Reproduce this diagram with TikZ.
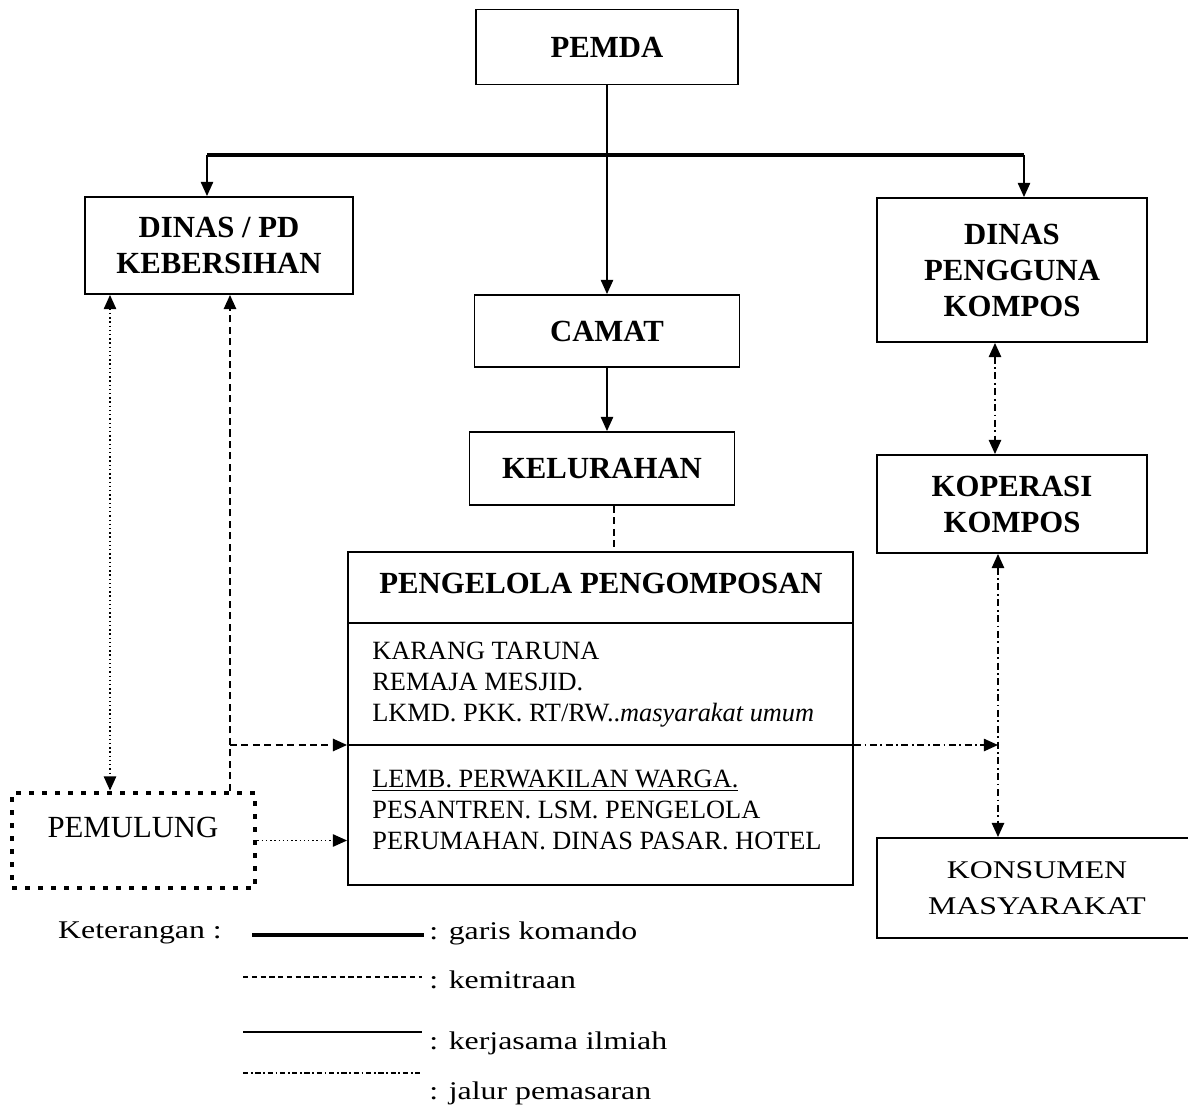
\documentclass[tikz,border=0pt]{standalone}
\usepackage{fontspec}
\setmainfont{Liberation Serif}
\newfontfamily\wideserif{Liberation Serif}[FakeStretch=1.25]
\usetikzlibrary{arrows.meta}
\tikzset{
  box/.style={draw,line width=1.1pt,align=center,inner sep=0pt},
  box-size/.style 2 args={minimum width=#1*0.02cm,minimum height=#2*0.02cm},
  box-bold/.style={box,font=\fontsize{17.5}{20.5}\selectfont\bfseries},
  box-wide/.style={box,font=\wideserif\fontsize{14.5}{20.5}\selectfont},
  box-dotted/.style={draw,line width=2.8pt,dash pattern=on 2.8pt off 4.6pt,
    inner sep=0pt},
  txt-list/.style={align=left,inner sep=0pt,
    font=\fontsize{15}{17.6}\selectfont},
  txt-legend/.style={inner sep=0pt,font=\wideserif\fontsize{14.5}{17}\selectfont},
  line-cmd/.style={line width=2.4pt},
  arrow/.style={->,line width=0.8pt},
  mitra/.style={line width=1pt,dash pattern=on 4pt off 2.5pt},
  pasar/.style={line width=0.9pt,dash pattern=on 4pt off 2pt on 1pt off 2pt},
  titik/.style={line width=0.8pt,dash pattern=on 0.8pt off 1.6pt},
}

\begin{document}
\begin{tikzpicture}[x=0.02cm,y=-0.02cm,>={Triangle[length=8pt,width=7pt]}]
  \useasboundingbox (0,0) rectangle (1188,1112);
  % kotak utama
  \node[box-bold,box-size={262}{75}] (pemda) at (607,47) {PEMDA};
  \node[box-bold,box-size={268}{97}] (dinaspd) at (219,245.5) {DINAS / PD\\KEBERSIHAN};
  \node[box-bold,box-size={270}{144}] (pengguna) at (1012,270) {DINAS\\PENGGUNA\\KOMPOS};
  \node[box-bold,box-size={265}{72}] (camat) at (607,331) {CAMAT};
  \node[box-bold,box-size={265}{73}] (kelurahan) at (602,468.5) {KELURAHAN};
  \node[box-bold,box-size={270}{98}] (koperasi) at (1012,504) {KOPERASI\\KOMPOS};
  \node[box-wide,box-size={320}{100}] (konsumen) at (1037,888) {KONSUMEN\\MASYARAKAT};
  % pengelola pengomposan
  \node[box,box-size={505}{333}] (pengelola) at (600.5,718.5) {};
  \node[font=\fontsize{17.5}{20.5}\selectfont\bfseries] (judul) at (601,583) {PENGELOLA PENGOMPOSAN};
  \draw[line width=1.1pt] (pengelola.west |- 0,623) -- (pengelola.east |- 0,623);
  \draw[line width=1.1pt] (pengelola.west |- 0,745) -- (pengelola.east |- 0,745);
  \node[txt-list,anchor=west] (grup1) at (372,685)
    {KARANG TARUNA\\REMAJA MESJID.\\LKMD. PKK. RT/RW..\textit{masyarakat umum}};
  \node[txt-list,anchor=west] (grup2) at (372,810)
    {\underline{LEMB. PERWAKILAN WARGA.}\\PESANTREN. LSM. PENGELOLA\\PERUMAHAN. DINAS PASAR. HOTEL};
  % pemulung
  \node[box-dotted,box-size={243}{95}] (pemulung) at (133.5,840.5) {};
  \node[font=\fontsize{17.5}{20}\selectfont] (pemulung-teks) at (133,827) {PEMULUNG};

  % garis komando
  \coordinate (barL) at (207,155);
  \coordinate (barR) at (1024,155);
  \draw[line-cmd] (barL) -- (barR);
  \draw[arrow] (barL) -- (barL |- dinaspd.north);
  \draw[arrow] (barR) -- (barR |- pengguna.north);
  \draw[arrow] (pemda.south) -- (camat.north);
  \draw[arrow] (camat.south) -- (camat.south |- kelurahan.north);

  % kemitraan
  \coordinate (kx) at (614,0);
  \coordinate (midrow) at (0,745);
  \coordinate (dashx) at (230,0);
  \coordinate (dotx) at (110,0);
  \draw[mitra] (kx |- kelurahan.south) -- (kx |- pengelola.north);
  \draw[mitra,->] (dashx |- pemulung.north) -- (dashx |- dinaspd.south);
  \draw[mitra,->] (dashx |- midrow) -- (pengelola.west |- midrow);
  \draw[titik,<->] (dotx |- dinaspd.south) -- (dotx |- pemulung.north);
  \draw[titik,->] (pemulung.east) -- (pemulung.east -| pengelola.west);

  % jalur pemasaran
  \coordinate (px1) at (995,0);
  \coordinate (px2) at (998,0);
  \draw[pasar,<->] (px1 |- pengguna.south) -- (px1 |- koperasi.north);
  \draw[pasar,<->] (px2 |- koperasi.south) -- (px2 |- konsumen.north);
  \draw[pasar,->] (pengelola.east |- midrow) -- (px2 |- midrow);

  % keterangan
  \node[txt-legend] (ket) at (140,933) {Keterangan :};
  \draw[line-cmd] (252,935) -- (424,935);
  \draw[line width=0.6pt,dash pattern=on 3pt off 2pt] (243,977) -- (422,977);
  \draw[line width=1pt] (243,1032) -- (422,1032);
  \draw[line width=0.6pt,dash pattern=on 3pt off 1.5pt on 1pt off 1.5pt] (243,1073) -- (422,1073);
  \node[txt-legend,anchor=west] (ket1) at (429,933) {: garis komando};
  \node[txt-legend,anchor=west] (ket2) at (429,980) {: kemitraan};
  \node[txt-legend,anchor=west] (ket3) at (429,1043) {: kerjasama ilmiah};
  \node[txt-legend,anchor=west] (ket4) at (429,1093) {: jalur pemasaran};
\end{tikzpicture}
\end{document}
